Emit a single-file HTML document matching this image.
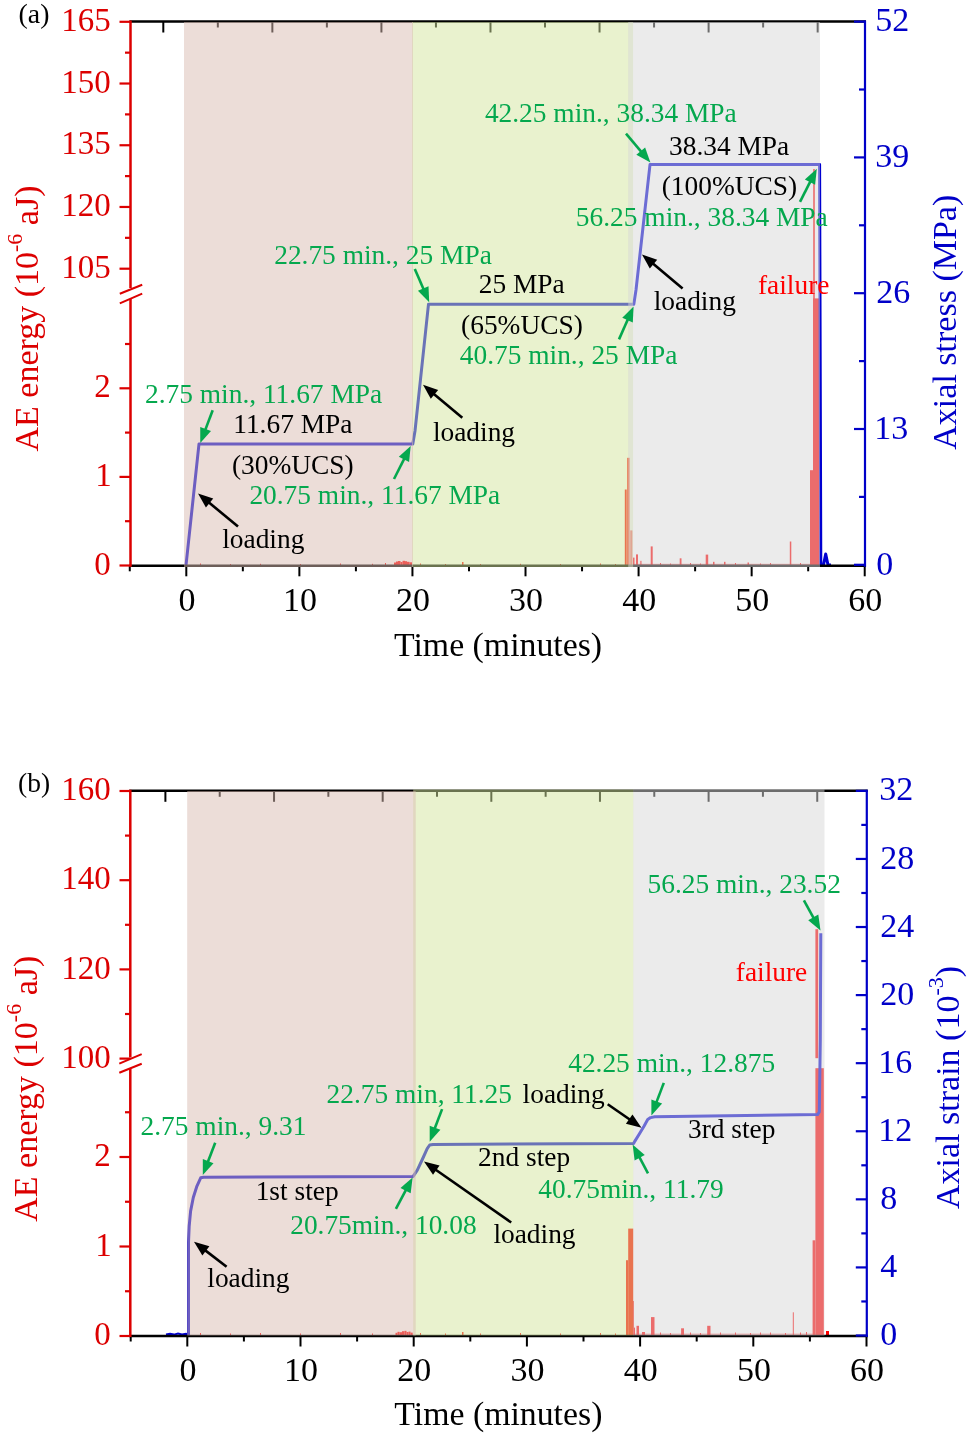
<!DOCTYPE html>
<html><head><meta charset="utf-8"><style>
html,body{margin:0;padding:0;background:#fff;}
svg{display:block;will-change:transform;font-family:"Liberation Serif", serif;}
</style></head><body>
<svg width="969" height="1436" viewBox="0 0 969 1436">
<rect width="969" height="1436" fill="#fff"/>
<g fill="#ff0000"><rect x="394" y="562.5" width="2" height="3.2999999999999545"/><rect x="396" y="561.5" width="2" height="4.2999999999999545"/><rect x="398" y="561" width="2.5" height="4.7999999999999545"/><rect x="400.5" y="562" width="2.0" height="3.7999999999999545"/><rect x="402.5" y="560.8" width="2.5" height="5.0"/><rect x="405" y="561.2" width="2" height="4.599999999999909"/><rect x="407" y="561.8" width="2.5" height="4.0"/><rect x="409.5" y="562.3" width="2.5" height="3.5"/><rect x="624.8" y="489.5" width="1.900000000000091" height="76.29999999999995"/><rect x="627.2" y="457.8" width="2.5" height="107.99999999999994"/><rect x="630.2" y="530.4" width="2.199999999999932" height="35.39999999999998"/><rect x="633" y="557.6" width="1.5" height="8.199999999999932"/><rect x="636" y="554.4" width="2" height="11.399999999999977"/><rect x="640.3" y="560.8" width="1.2000000000000455" height="5.0"/><rect x="650.7" y="546.4" width="2.0" height="19.399999999999977"/><rect x="679.7" y="558.3" width="1.7999999999999545" height="7.5"/><rect x="705.7" y="554.6" width="2.5" height="11.199999999999932"/><rect x="713" y="561.8" width="1.5" height="4.0"/><rect x="724" y="561.8" width="1.5" height="4.0"/><rect x="747.5" y="562.5" width="1.5" height="3.2999999999999545"/><rect x="789.8" y="541.5" width="1.5" height="24.299999999999955"/><rect x="810" y="470.2" width="3" height="95.59999999999997"/><rect x="813" y="298.4" width="6.5" height="267.4"/><rect x="813.2" y="169" width="1.599999999999909" height="396.79999999999995"/><rect x="200" y="563.5" width="1" height="2.2999999999999545"/><rect x="230" y="564" width="1" height="1.7999999999999545"/><rect x="260" y="563.8" width="1" height="2.0"/><rect x="300" y="564" width="1" height="1.7999999999999545"/><rect x="340" y="563.5" width="1" height="2.2999999999999545"/><rect x="372" y="563.8" width="1" height="2.0"/><rect x="385" y="563" width="1" height="2.7999999999999545"/><rect x="420" y="563.5" width="1" height="2.2999999999999545"/><rect x="445" y="564" width="1" height="1.7999999999999545"/><rect x="462" y="562" width="1.5" height="3.7999999999999545"/><rect x="480" y="564" width="1" height="1.7999999999999545"/><rect x="520" y="563.8" width="1" height="2.0"/><rect x="560" y="564" width="1" height="1.7999999999999545"/><rect x="600" y="563.5" width="1" height="2.2999999999999545"/><rect x="615" y="564" width="1" height="1.7999999999999545"/><rect x="660" y="563" width="1" height="2.7999999999999545"/><rect x="670" y="563.5" width="1" height="2.2999999999999545"/><rect x="690" y="563" width="1" height="2.7999999999999545"/><rect x="700" y="563.5" width="1" height="2.2999999999999545"/><rect x="735" y="563" width="1" height="2.7999999999999545"/><rect x="760" y="563.5" width="1" height="2.2999999999999545"/><rect x="770" y="563" width="1" height="2.7999999999999545"/><rect x="800" y="563" width="1" height="2.7999999999999545"/></g>
<rect x="633.00" y="563.80" width="187.00" height="1.20" fill="#ff0000" opacity="0.5"/>
<polyline points="186.0,565.3 199.0,443.9 412.8,443.9 415.0,431.0 428.5,304.2 633.8,304.2 636.0,290.0 650.0,164.6 819.6,164.6 820.8,565.0 823.5,565.0 825.7,554.0 828.0,565.0 831.0,565.0" fill="none" stroke="#0000d0" stroke-width="3" stroke-linejoin="round"/>
<line x1="129.50" y1="21.50" x2="866.00" y2="21.50" stroke="#000" stroke-width="2.6" />
<line x1="129.50" y1="565.80" x2="866.00" y2="565.80" stroke="#000" stroke-width="2.6" />
<line x1="163.30" y1="21.50" x2="163.30" y2="32.50" stroke="#000" stroke-width="2" />
<line x1="217.83" y1="21.50" x2="217.83" y2="27.50" stroke="#000" stroke-width="2" />
<line x1="272.36" y1="21.50" x2="272.36" y2="32.50" stroke="#000" stroke-width="2" />
<line x1="326.89" y1="21.50" x2="326.89" y2="27.50" stroke="#000" stroke-width="2" />
<line x1="381.42" y1="21.50" x2="381.42" y2="32.50" stroke="#000" stroke-width="2" />
<line x1="435.95" y1="21.50" x2="435.95" y2="27.50" stroke="#000" stroke-width="2" />
<line x1="490.48" y1="21.50" x2="490.48" y2="32.50" stroke="#000" stroke-width="2" />
<line x1="545.01" y1="21.50" x2="545.01" y2="27.50" stroke="#000" stroke-width="2" />
<line x1="599.54" y1="21.50" x2="599.54" y2="32.50" stroke="#000" stroke-width="2" />
<line x1="654.07" y1="21.50" x2="654.07" y2="27.50" stroke="#000" stroke-width="2" />
<line x1="708.60" y1="21.50" x2="708.60" y2="32.50" stroke="#000" stroke-width="2" />
<line x1="763.13" y1="21.50" x2="763.13" y2="27.50" stroke="#000" stroke-width="2" />
<line x1="817.66" y1="21.50" x2="817.66" y2="32.50" stroke="#000" stroke-width="2" />
<line x1="129.77" y1="565.80" x2="129.77" y2="571.30" stroke="#000" stroke-width="2" />
<line x1="186.30" y1="565.80" x2="186.30" y2="576.30" stroke="#000" stroke-width="2" />
<line x1="242.84" y1="565.80" x2="242.84" y2="571.30" stroke="#000" stroke-width="2" />
<line x1="299.37" y1="565.80" x2="299.37" y2="576.30" stroke="#000" stroke-width="2" />
<line x1="355.91" y1="565.80" x2="355.91" y2="571.30" stroke="#000" stroke-width="2" />
<line x1="412.44" y1="565.80" x2="412.44" y2="576.30" stroke="#000" stroke-width="2" />
<line x1="468.98" y1="565.80" x2="468.98" y2="571.30" stroke="#000" stroke-width="2" />
<line x1="525.51" y1="565.80" x2="525.51" y2="576.30" stroke="#000" stroke-width="2" />
<line x1="582.05" y1="565.80" x2="582.05" y2="571.30" stroke="#000" stroke-width="2" />
<line x1="638.58" y1="565.80" x2="638.58" y2="576.30" stroke="#000" stroke-width="2" />
<line x1="695.12" y1="565.80" x2="695.12" y2="571.30" stroke="#000" stroke-width="2" />
<line x1="751.65" y1="565.80" x2="751.65" y2="576.30" stroke="#000" stroke-width="2" />
<line x1="808.18" y1="565.80" x2="808.18" y2="571.30" stroke="#000" stroke-width="2" />
<line x1="864.72" y1="565.80" x2="864.72" y2="576.30" stroke="#000" stroke-width="2" />
<rect x="412.00" y="22.00" width="221.10" height="545.00" fill="rgba(212,229,157,0.5)" />
<rect x="184.00" y="22.00" width="229.00" height="545.00" fill="rgba(217,187,177,0.5)" />
<rect x="628.20" y="22.00" width="191.80" height="545.00" fill="rgba(215,215,215,0.5)" />
<line x1="130.50" y1="20.50" x2="130.50" y2="288.00" stroke="#dc0000" stroke-width="2.5" />
<line x1="130.50" y1="299.00" x2="130.50" y2="566.80" stroke="#dc0000" stroke-width="2.5" />
<line x1="119.80" y1="293.70" x2="142.20" y2="284.70" stroke="#dc0000" stroke-width="2" />
<line x1="119.80" y1="303.30" x2="142.20" y2="293.70" stroke="#dc0000" stroke-width="2" />
<line x1="119.50" y1="21.80" x2="130.50" y2="21.80" stroke="#dc0000" stroke-width="2.2" />
<text x="110.80" y="30.90" font-size="33" fill="#dc0000" text-anchor="end">165</text>
<line x1="119.50" y1="83.52" x2="130.50" y2="83.52" stroke="#dc0000" stroke-width="2.2" />
<text x="110.80" y="92.62" font-size="33" fill="#dc0000" text-anchor="end">150</text>
<line x1="119.50" y1="145.25" x2="130.50" y2="145.25" stroke="#dc0000" stroke-width="2.2" />
<text x="110.80" y="154.35" font-size="33" fill="#dc0000" text-anchor="end">135</text>
<line x1="119.50" y1="206.97" x2="130.50" y2="206.97" stroke="#dc0000" stroke-width="2.2" />
<text x="110.80" y="216.07" font-size="33" fill="#dc0000" text-anchor="end">120</text>
<line x1="119.50" y1="268.70" x2="130.50" y2="268.70" stroke="#dc0000" stroke-width="2.2" />
<text x="110.80" y="277.80" font-size="33" fill="#dc0000" text-anchor="end">105</text>
<line x1="125.00" y1="52.66" x2="130.50" y2="52.66" stroke="#dc0000" stroke-width="2.2" />
<line x1="125.00" y1="114.39" x2="130.50" y2="114.39" stroke="#dc0000" stroke-width="2.2" />
<line x1="125.00" y1="176.11" x2="130.50" y2="176.11" stroke="#dc0000" stroke-width="2.2" />
<line x1="125.00" y1="237.84" x2="130.50" y2="237.84" stroke="#dc0000" stroke-width="2.2" />
<line x1="119.50" y1="565.50" x2="130.50" y2="565.50" stroke="#dc0000" stroke-width="2.2" />
<text x="110.80" y="574.60" font-size="33" fill="#dc0000" text-anchor="end">0</text>
<line x1="119.50" y1="476.90" x2="130.50" y2="476.90" stroke="#dc0000" stroke-width="2.2" />
<text x="111.80" y="486.00" font-size="33" fill="#dc0000" text-anchor="end">1</text>
<line x1="119.50" y1="388.30" x2="130.50" y2="388.30" stroke="#dc0000" stroke-width="2.2" />
<text x="110.80" y="397.40" font-size="33" fill="#dc0000" text-anchor="end">2</text>
<line x1="125.00" y1="521.20" x2="130.50" y2="521.20" stroke="#dc0000" stroke-width="2.2" />
<line x1="125.00" y1="432.60" x2="130.50" y2="432.60" stroke="#dc0000" stroke-width="2.2" />
<line x1="125.00" y1="344.00" x2="130.50" y2="344.00" stroke="#dc0000" stroke-width="2.2" />
<line x1="865.00" y1="20.50" x2="865.00" y2="566.80" stroke="#0000c8" stroke-width="2.2" />
<line x1="854.00" y1="564.80" x2="865.00" y2="564.80" stroke="#0000c8" stroke-width="2.2" />
<text x="876.30" y="574.60" font-size="34" fill="#0000c8">0</text>
<line x1="854.00" y1="429.00" x2="865.00" y2="429.00" stroke="#0000c8" stroke-width="2.2" />
<text x="874.30" y="438.80" font-size="34" fill="#0000c8">13</text>
<line x1="854.00" y1="293.20" x2="865.00" y2="293.20" stroke="#0000c8" stroke-width="2.2" />
<text x="876.30" y="303.00" font-size="34" fill="#0000c8">26</text>
<line x1="854.00" y1="157.41" x2="865.00" y2="157.41" stroke="#0000c8" stroke-width="2.2" />
<text x="875.30" y="167.21" font-size="34" fill="#0000c8">39</text>
<line x1="854.00" y1="21.61" x2="865.00" y2="21.61" stroke="#0000c8" stroke-width="2.2" />
<text x="875.30" y="31.41" font-size="34" fill="#0000c8">52</text>
<line x1="859.00" y1="496.90" x2="865.00" y2="496.90" stroke="#0000c8" stroke-width="2.2" />
<line x1="859.00" y1="361.10" x2="865.00" y2="361.10" stroke="#0000c8" stroke-width="2.2" />
<line x1="859.00" y1="225.30" x2="865.00" y2="225.30" stroke="#0000c8" stroke-width="2.2" />
<line x1="859.00" y1="89.51" x2="865.00" y2="89.51" stroke="#0000c8" stroke-width="2.2" />
<text x="186.90" y="611.30" font-size="34" fill="#000" text-anchor="middle">0</text>
<text x="299.97" y="611.30" font-size="34" fill="#000" text-anchor="middle">10</text>
<text x="413.04" y="611.30" font-size="34" fill="#000" text-anchor="middle">20</text>
<text x="526.11" y="611.30" font-size="34" fill="#000" text-anchor="middle">30</text>
<text x="639.18" y="611.30" font-size="34" fill="#000" text-anchor="middle">40</text>
<text x="752.25" y="611.30" font-size="34" fill="#000" text-anchor="middle">50</text>
<text x="865.32" y="611.30" font-size="34" fill="#000" text-anchor="middle">60</text>
<text x="394.01" y="655.50" font-size="33.8" fill="#000">Time (minutes)</text>
<text transform="translate(37.5,451.5) rotate(-90)" font-size="34" fill="#dc0000">AE energy (10<tspan dy="-16" font-size="22">-6</tspan><tspan dy="16"> aJ)</tspan></text>
<text transform="translate(956,449.7) rotate(-90)" font-size="34" fill="#0000c8">Axial stress (MPa)</text>
<text x="18.6" y="23.2" font-size="27.8" fill="#000">(a)</text>
<text x="144.99" y="402.50" font-size="27.4" fill="#05a84e">2.75 min., 11.67 MPa</text>
<text x="233.26" y="433.20" font-size="27.4" fill="#000">11.67 MPa</text>
<text x="231.99" y="473.90" font-size="27.4" fill="#000">(30%UCS)</text>
<text x="249.39" y="504.40" font-size="27.4" fill="#05a84e">20.75 min., 11.67 MPa</text>
<text x="222.19" y="548.30" font-size="27.4" fill="#000">loading</text>
<text x="432.89" y="440.50" font-size="27.4" fill="#000">loading</text>
<text x="274.19" y="263.80" font-size="27.4" fill="#05a84e">22.75 min., 25 MPa</text>
<text x="478.79" y="293.20" font-size="27.4" fill="#000">25 MPa</text>
<text x="461.09" y="334.20" font-size="27.4" fill="#000">(65%UCS)</text>
<text x="459.79" y="363.90" font-size="27.4" fill="#05a84e">40.75 min., 25 MPa</text>
<text x="653.69" y="310.00" font-size="27.4" fill="#000">loading</text>
<text x="484.89" y="121.80" font-size="27.4" fill="#05a84e">42.25 min., 38.34 MPa</text>
<text x="668.99" y="155.00" font-size="27.4" fill="#000">38.34 MPa</text>
<text x="661.69" y="195.20" font-size="27.4" fill="#000">(100%UCS)</text>
<text x="575.87" y="226.30" font-size="27.4" fill="#05a84e">56.25 min., 38.34 MPa</text>
<text x="757.99" y="294.40" font-size="27.4" fill="#ff0000">failure</text>
<line x1="212.70" y1="410.30" x2="204.91" y2="430.84" stroke="#05a84e" stroke-width="2.6" />
<polygon points="200.30,443.00 200.24,426.94 210.99,431.01" fill="#05a84e"/>
<line x1="238.00" y1="526.50" x2="208.03" y2="501.77" stroke="#000" stroke-width="2.6" />
<polygon points="198.00,493.50 213.23,498.61 205.91,507.48" fill="#000"/>
<line x1="394.00" y1="479.00" x2="404.83" y2="457.60" stroke="#05a84e" stroke-width="2.6" />
<polygon points="410.70,446.00 409.06,461.98 398.80,456.79" fill="#05a84e"/>
<line x1="414.80" y1="269.00" x2="424.03" y2="290.27" stroke="#05a84e" stroke-width="2.6" />
<polygon points="429.20,302.20 417.96,290.73 428.51,286.15" fill="#05a84e"/>
<line x1="619.00" y1="339.40" x2="628.34" y2="318.29" stroke="#05a84e" stroke-width="2.6" />
<polygon points="633.60,306.40 632.79,322.44 622.27,317.79" fill="#05a84e"/>
<line x1="462.30" y1="417.80" x2="432.96" y2="393.16" stroke="#000" stroke-width="2.6" />
<polygon points="423.00,384.80 438.18,390.04 430.79,398.85" fill="#000"/>
<line x1="626.00" y1="133.70" x2="642.01" y2="152.67" stroke="#05a84e" stroke-width="2.6" />
<polygon points="650.40,162.60 636.33,154.85 645.12,147.43" fill="#05a84e"/>
<line x1="800.00" y1="201.80" x2="810.90" y2="180.39" stroke="#05a84e" stroke-width="2.6" />
<polygon points="816.80,168.80 815.12,184.78 804.87,179.56" fill="#05a84e"/>
<line x1="682.60" y1="288.50" x2="651.97" y2="262.85" stroke="#000" stroke-width="2.6" />
<polygon points="642.00,254.50 657.19,259.72 649.81,268.54" fill="#000"/>
<g fill="#ff0000"><rect x="395.5" y="1332.8" width="2.0" height="3.2000000000000455"/><rect x="397.5" y="1331.8" width="2.0" height="4.2000000000000455"/><rect x="399.5" y="1332.2" width="2.5" height="3.7999999999999545"/><rect x="402" y="1331.2" width="2.5" height="4.7999999999999545"/><rect x="404.5" y="1330.8" width="2.0" height="5.2000000000000455"/><rect x="406.5" y="1332" width="2.0" height="4"/><rect x="408.5" y="1331.6" width="2.0" height="4.400000000000091"/><rect x="410.5" y="1332.6" width="2.1999999999999886" height="3.400000000000091"/><rect x="626" y="1260.2" width="2.2000000000000455" height="75.79999999999995"/><rect x="628.2" y="1228.6" width="5.0" height="107.40000000000009"/><rect x="633.2" y="1301" width="0.7999999999999545" height="35"/><rect x="634" y="1327.6" width="1" height="8.400000000000091"/><rect x="636.5" y="1325.8" width="2.5" height="10.200000000000045"/><rect x="642" y="1332" width="3" height="4"/><rect x="651" y="1317.1" width="3.5" height="18.90000000000009"/><rect x="681.1" y="1328.3" width="2.8999999999999773" height="7.7000000000000455"/><rect x="707.2" y="1325.8" width="3.2999999999999545" height="10.200000000000045"/><rect x="792.8" y="1312.3" width="1.0" height="23.700000000000045"/><rect x="812.6" y="1240.3" width="2.7999999999999545" height="95.70000000000005"/><rect x="815.4" y="1068.2" width="8.399999999999977" height="267.79999999999995"/><rect x="200" y="1333" width="1" height="3"/><rect x="230" y="1333.5" width="1" height="2.5"/><rect x="260" y="1333" width="1" height="3"/><rect x="300" y="1333.5" width="1" height="2.5"/><rect x="340" y="1333" width="1" height="3"/><rect x="372" y="1333.5" width="1" height="2.5"/><rect x="420" y="1333" width="1" height="3"/><rect x="445" y="1333.5" width="1" height="2.5"/><rect x="462" y="1332" width="1.5" height="4"/><rect x="480" y="1333.5" width="1" height="2.5"/><rect x="520" y="1333" width="1" height="3"/><rect x="560" y="1333.5" width="1" height="2.5"/><rect x="600" y="1333" width="1" height="3"/><rect x="615" y="1333.5" width="1" height="2.5"/><rect x="660" y="1332.5" width="1" height="3.5"/><rect x="670" y="1333" width="1" height="3"/><rect x="690" y="1332.5" width="1" height="3.5"/><rect x="700" y="1333" width="1" height="3"/><rect x="720" y="1332.5" width="1" height="3.5"/><rect x="735" y="1332.5" width="1" height="3.5"/><rect x="750" y="1333" width="1" height="3"/><rect x="760" y="1332.5" width="1" height="3.5"/><rect x="770" y="1332.5" width="1" height="3.5"/><rect x="785" y="1333" width="1" height="3"/><rect x="800" y="1332.5" width="1" height="3.5"/><rect x="806" y="1332" width="1" height="4"/><rect x="826" y="1331" width="3" height="5"/></g>
<rect x="633.00" y="1333.60" width="191.00" height="1.20" fill="#ff0000" opacity="0.5"/>
<rect x="815.40" y="929.20" width="2.80" height="129.00" fill="#ff0000" />
<polyline points="188.5,1335.4 188.5,1242.4 189.2,1226.0 190.6,1211.1 193.3,1197.5 196.7,1186.7 200.7,1177.8 203.5,1177.2 413.2,1176.4 417.3,1170.2 422.3,1159.5 427.2,1148.7 429.7,1145.0 433.0,1144.4 633.6,1143.4 634.9,1141.1 639.0,1134.5 644.0,1126.2 647.7,1119.6 650.6,1117.6 654.7,1116.7 817.6,1114.6 819.3,1112.0 820.3,1040.0 820.8,933.2" fill="none" stroke="#0000d0" stroke-width="3" stroke-linejoin="round"/>
<polyline points="166,1334.5 170,1333.8 174,1334.6 178,1333.6 182,1334.4 186,1333.8 188,1334.5" fill="none" stroke="#0000d0" stroke-width="2"/>
<line x1="129.30" y1="790.80" x2="867.80" y2="790.80" stroke="#000" stroke-width="2.6" />
<line x1="129.30" y1="1336.00" x2="867.80" y2="1336.00" stroke="#000" stroke-width="2.6" />
<line x1="165.40" y1="790.80" x2="165.40" y2="801.80" stroke="#000" stroke-width="2" />
<line x1="219.72" y1="790.80" x2="219.72" y2="796.80" stroke="#000" stroke-width="2" />
<line x1="274.04" y1="790.80" x2="274.04" y2="801.80" stroke="#000" stroke-width="2" />
<line x1="328.36" y1="790.80" x2="328.36" y2="796.80" stroke="#000" stroke-width="2" />
<line x1="382.68" y1="790.80" x2="382.68" y2="801.80" stroke="#000" stroke-width="2" />
<line x1="437.00" y1="790.80" x2="437.00" y2="796.80" stroke="#000" stroke-width="2" />
<line x1="491.32" y1="790.80" x2="491.32" y2="801.80" stroke="#000" stroke-width="2" />
<line x1="545.64" y1="790.80" x2="545.64" y2="796.80" stroke="#000" stroke-width="2" />
<line x1="599.96" y1="790.80" x2="599.96" y2="801.80" stroke="#000" stroke-width="2" />
<line x1="654.28" y1="790.80" x2="654.28" y2="796.80" stroke="#000" stroke-width="2" />
<line x1="708.60" y1="790.80" x2="708.60" y2="801.80" stroke="#000" stroke-width="2" />
<line x1="762.92" y1="790.80" x2="762.92" y2="796.80" stroke="#000" stroke-width="2" />
<line x1="817.24" y1="790.80" x2="817.24" y2="801.80" stroke="#000" stroke-width="2" />
<line x1="130.70" y1="1336.00" x2="130.70" y2="1341.50" stroke="#000" stroke-width="2" />
<line x1="187.30" y1="1336.00" x2="187.30" y2="1346.50" stroke="#000" stroke-width="2" />
<line x1="243.90" y1="1336.00" x2="243.90" y2="1341.50" stroke="#000" stroke-width="2" />
<line x1="300.50" y1="1336.00" x2="300.50" y2="1346.50" stroke="#000" stroke-width="2" />
<line x1="357.10" y1="1336.00" x2="357.10" y2="1341.50" stroke="#000" stroke-width="2" />
<line x1="413.70" y1="1336.00" x2="413.70" y2="1346.50" stroke="#000" stroke-width="2" />
<line x1="470.30" y1="1336.00" x2="470.30" y2="1341.50" stroke="#000" stroke-width="2" />
<line x1="526.90" y1="1336.00" x2="526.90" y2="1346.50" stroke="#000" stroke-width="2" />
<line x1="583.50" y1="1336.00" x2="583.50" y2="1341.50" stroke="#000" stroke-width="2" />
<line x1="640.10" y1="1336.00" x2="640.10" y2="1346.50" stroke="#000" stroke-width="2" />
<line x1="696.70" y1="1336.00" x2="696.70" y2="1341.50" stroke="#000" stroke-width="2" />
<line x1="753.30" y1="1336.00" x2="753.30" y2="1346.50" stroke="#000" stroke-width="2" />
<line x1="809.90" y1="1336.00" x2="809.90" y2="1341.50" stroke="#000" stroke-width="2" />
<line x1="866.50" y1="1336.00" x2="866.50" y2="1346.50" stroke="#000" stroke-width="2" />
<rect x="413.20" y="789.50" width="220.20" height="546.00" fill="rgba(212,229,157,0.5)" />
<rect x="187.20" y="791.00" width="228.50" height="544.50" fill="rgba(217,187,177,0.5)" />
<rect x="633.20" y="789.50" width="191.30" height="546.00" fill="rgba(215,215,215,0.5)" />
<line x1="130.30" y1="789.80" x2="130.30" y2="1057.50" stroke="#dc0000" stroke-width="2.5" />
<line x1="130.30" y1="1068.90" x2="130.30" y2="1337.00" stroke="#dc0000" stroke-width="2.5" />
<line x1="119.30" y1="1063.70" x2="141.70" y2="1054.20" stroke="#dc0000" stroke-width="2" />
<line x1="119.30" y1="1072.80" x2="141.70" y2="1063.70" stroke="#dc0000" stroke-width="2" />
<line x1="119.50" y1="791.00" x2="130.30" y2="791.00" stroke="#dc0000" stroke-width="2.2" />
<text x="110.80" y="800.10" font-size="33" fill="#dc0000" text-anchor="end">160</text>
<line x1="119.50" y1="880.20" x2="130.30" y2="880.20" stroke="#dc0000" stroke-width="2.2" />
<text x="110.80" y="889.30" font-size="33" fill="#dc0000" text-anchor="end">140</text>
<line x1="119.50" y1="969.40" x2="130.30" y2="969.40" stroke="#dc0000" stroke-width="2.2" />
<text x="110.80" y="978.50" font-size="33" fill="#dc0000" text-anchor="end">120</text>
<line x1="119.50" y1="1058.60" x2="130.30" y2="1058.60" stroke="#dc0000" stroke-width="2.2" />
<text x="110.80" y="1067.70" font-size="33" fill="#dc0000" text-anchor="end">100</text>
<line x1="125.00" y1="835.60" x2="130.30" y2="835.60" stroke="#dc0000" stroke-width="2.2" />
<line x1="125.00" y1="924.80" x2="130.30" y2="924.80" stroke="#dc0000" stroke-width="2.2" />
<line x1="125.00" y1="1014.00" x2="130.30" y2="1014.00" stroke="#dc0000" stroke-width="2.2" />
<line x1="119.50" y1="1336.00" x2="130.30" y2="1336.00" stroke="#dc0000" stroke-width="2.2" />
<text x="110.80" y="1345.10" font-size="33" fill="#dc0000" text-anchor="end">0</text>
<line x1="119.50" y1="1246.50" x2="130.30" y2="1246.50" stroke="#dc0000" stroke-width="2.2" />
<text x="111.80" y="1255.60" font-size="33" fill="#dc0000" text-anchor="end">1</text>
<line x1="119.50" y1="1157.00" x2="130.30" y2="1157.00" stroke="#dc0000" stroke-width="2.2" />
<text x="110.80" y="1166.10" font-size="33" fill="#dc0000" text-anchor="end">2</text>
<line x1="125.00" y1="1291.25" x2="130.30" y2="1291.25" stroke="#dc0000" stroke-width="2.2" />
<line x1="125.00" y1="1201.75" x2="130.30" y2="1201.75" stroke="#dc0000" stroke-width="2.2" />
<line x1="125.00" y1="1112.25" x2="130.30" y2="1112.25" stroke="#dc0000" stroke-width="2.2" />
<line x1="866.80" y1="789.80" x2="866.80" y2="1337.00" stroke="#0000c8" stroke-width="2.2" />
<line x1="855.80" y1="1335.50" x2="866.80" y2="1335.50" stroke="#0000c8" stroke-width="2.2" />
<text x="880.30" y="1345.10" font-size="34" fill="#0000c8">0</text>
<line x1="855.80" y1="1267.42" x2="866.80" y2="1267.42" stroke="#0000c8" stroke-width="2.2" />
<text x="880.30" y="1277.02" font-size="34" fill="#0000c8">4</text>
<line x1="855.80" y1="1199.34" x2="866.80" y2="1199.34" stroke="#0000c8" stroke-width="2.2" />
<text x="880.30" y="1208.94" font-size="34" fill="#0000c8">8</text>
<line x1="855.80" y1="1131.26" x2="866.80" y2="1131.26" stroke="#0000c8" stroke-width="2.2" />
<text x="878.30" y="1140.86" font-size="34" fill="#0000c8">12</text>
<line x1="855.80" y1="1063.18" x2="866.80" y2="1063.18" stroke="#0000c8" stroke-width="2.2" />
<text x="878.30" y="1072.78" font-size="34" fill="#0000c8">16</text>
<line x1="855.80" y1="995.10" x2="866.80" y2="995.10" stroke="#0000c8" stroke-width="2.2" />
<text x="880.30" y="1004.70" font-size="34" fill="#0000c8">20</text>
<line x1="855.80" y1="927.02" x2="866.80" y2="927.02" stroke="#0000c8" stroke-width="2.2" />
<text x="880.30" y="936.62" font-size="34" fill="#0000c8">24</text>
<line x1="855.80" y1="858.94" x2="866.80" y2="858.94" stroke="#0000c8" stroke-width="2.2" />
<text x="880.30" y="868.54" font-size="34" fill="#0000c8">28</text>
<line x1="855.80" y1="790.86" x2="866.80" y2="790.86" stroke="#0000c8" stroke-width="2.2" />
<text x="879.30" y="800.46" font-size="34" fill="#0000c8">32</text>
<line x1="861.30" y1="1301.46" x2="866.80" y2="1301.46" stroke="#0000c8" stroke-width="2.2" />
<line x1="861.30" y1="1233.38" x2="866.80" y2="1233.38" stroke="#0000c8" stroke-width="2.2" />
<line x1="861.30" y1="1165.30" x2="866.80" y2="1165.30" stroke="#0000c8" stroke-width="2.2" />
<line x1="861.30" y1="1097.22" x2="866.80" y2="1097.22" stroke="#0000c8" stroke-width="2.2" />
<line x1="861.30" y1="1029.14" x2="866.80" y2="1029.14" stroke="#0000c8" stroke-width="2.2" />
<line x1="861.30" y1="961.06" x2="866.80" y2="961.06" stroke="#0000c8" stroke-width="2.2" />
<line x1="861.30" y1="892.98" x2="866.80" y2="892.98" stroke="#0000c8" stroke-width="2.2" />
<line x1="861.30" y1="824.90" x2="866.80" y2="824.90" stroke="#0000c8" stroke-width="2.2" />
<text x="187.90" y="1381.30" font-size="34" fill="#000" text-anchor="middle">0</text>
<text x="301.10" y="1381.30" font-size="34" fill="#000" text-anchor="middle">10</text>
<text x="414.30" y="1381.30" font-size="34" fill="#000" text-anchor="middle">20</text>
<text x="527.50" y="1381.30" font-size="34" fill="#000" text-anchor="middle">30</text>
<text x="640.70" y="1381.30" font-size="34" fill="#000" text-anchor="middle">40</text>
<text x="753.90" y="1381.30" font-size="34" fill="#000" text-anchor="middle">50</text>
<text x="867.10" y="1381.30" font-size="34" fill="#000" text-anchor="middle">60</text>
<text x="394.31" y="1425.30" font-size="33.8" fill="#000">Time (minutes)</text>
<text transform="translate(37.3,1221.7) rotate(-90)" font-size="34" fill="#dc0000">AE energy (10<tspan dy="-16" font-size="22">-6</tspan><tspan dy="16"> aJ)</tspan></text>
<text transform="translate(959.2,1209) rotate(-90)" font-size="34" fill="#0000c8">Axial strain (10<tspan dy="-16" font-size="22">-3</tspan><tspan dy="16">)</tspan></text>
<text x="18" y="792.3" font-size="27.5" fill="#000">(b)</text>
<text x="140.59" y="1135.10" font-size="27.4" fill="#05a84e">2.75 min., 9.31</text>
<text x="255.66" y="1200.30" font-size="27.4" fill="#000">1st step</text>
<text x="290.19" y="1234.00" font-size="27.4" fill="#05a84e">20.75min., 10.08</text>
<text x="207.29" y="1286.60" font-size="27.4" fill="#000">loading</text>
<text x="326.59" y="1102.60" font-size="27.4" fill="#05a84e">22.75 min, 11.25</text>
<text x="522.59" y="1103.00" font-size="27.4" fill="#000">loading</text>
<text x="478.09" y="1166.30" font-size="27.4" fill="#000">2nd step</text>
<text x="538.29" y="1198.00" font-size="27.4" fill="#05a84e">40.75min., 11.79</text>
<text x="493.39" y="1242.60" font-size="27.4" fill="#000">loading</text>
<text x="568.19" y="1072.00" font-size="27.4" fill="#05a84e">42.25 min., 12.875</text>
<text x="687.99" y="1138.30" font-size="27.4" fill="#000">3rd step</text>
<text x="735.79" y="980.50" font-size="27.4" fill="#ff0000">failure</text>
<text x="647.57" y="892.90" font-size="27.4" fill="#05a84e">56.25 min., 23.52</text>
<line x1="215.20" y1="1142.70" x2="207.45" y2="1162.96" stroke="#05a84e" stroke-width="2.6" />
<polygon points="202.80,1175.10 202.79,1159.04 213.53,1163.15" fill="#05a84e"/>
<line x1="226.60" y1="1266.80" x2="204.30" y2="1249.63" stroke="#000" stroke-width="2.6" />
<polygon points="194.00,1241.70 209.39,1246.29 202.38,1255.41" fill="#000"/>
<line x1="395.90" y1="1208.80" x2="406.50" y2="1188.88" stroke="#05a84e" stroke-width="2.6" />
<polygon points="412.60,1177.40 410.63,1193.34 400.48,1187.94" fill="#05a84e"/>
<line x1="442.10" y1="1109.10" x2="434.32" y2="1129.55" stroke="#05a84e" stroke-width="2.6" />
<polygon points="429.70,1141.70 429.66,1125.64 440.41,1129.72" fill="#05a84e"/>
<line x1="511.20" y1="1222.50" x2="434.65" y2="1168.95" stroke="#000" stroke-width="2.6" />
<polygon points="424.00,1161.50 439.59,1165.39 433.00,1174.81" fill="#000"/>
<line x1="607.70" y1="1104.20" x2="630.83" y2="1120.28" stroke="#000" stroke-width="2.6" />
<polygon points="641.50,1127.70 625.90,1123.86 632.47,1114.42" fill="#000"/>
<line x1="648.00" y1="1173.30" x2="638.73" y2="1155.96" stroke="#05a84e" stroke-width="2.6" />
<polygon points="632.60,1144.50 644.74,1155.02 634.60,1160.44" fill="#05a84e"/>
<line x1="663.80" y1="1082.90" x2="656.02" y2="1103.35" stroke="#05a84e" stroke-width="2.6" />
<polygon points="651.40,1115.50 651.36,1099.44 662.11,1103.52" fill="#05a84e"/>
<line x1="803.90" y1="900.40" x2="814.22" y2="919.12" stroke="#05a84e" stroke-width="2.6" />
<polygon points="820.50,930.50 808.22,920.14 818.29,914.59" fill="#05a84e"/>
</svg></body></html>
